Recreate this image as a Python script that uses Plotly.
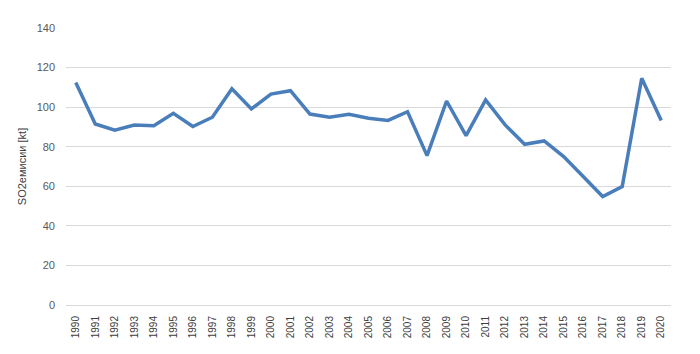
import plotly.graph_objects as go

years = [str(y) for y in range(1990, 2021)]
so2 = [112.4, 91.5, 88.4, 91.0, 90.6, 96.9, 90.2, 94.9, 109.3, 99.1,
       106.6, 108.3, 96.5, 94.9, 96.4, 94.4, 93.3, 97.7, 75.5, 103.1,
       85.6, 103.6, 91.0, 81.2, 82.9, 75.0, 64.9, 54.8, 59.8, 114.6, 93.2]
y_ticks = [0, 20, 40, 60, 80, 100, 120, 140]

fig = go.Figure()
fig.add_trace(go.Scatter(
    x=years, y=so2, mode="lines",
    line=dict(color="#4a7ebb", width=3.5),
    hoverinfo="x+y", showlegend=False,
))

fig.update_layout(
    width=700, height=354,
    margin=dict(l=66, r=29, t=28, b=49),
    paper_bgcolor="white", plot_bgcolor="white",
    font=dict(family="Liberation Sans, Arial, sans-serif", color="#595959", size=10),
    xaxis=dict(
        type="category", tickangle=-90, showgrid=False,
        range=[-0.5, len(years) - 0.5],
        showline=True, linecolor="#d9d9d9", linewidth=1,
        ticks="", ticklabelstandoff=6, tickfont=dict(size=10, color="#404040"),
    ),
    yaxis=dict(
        range=[0, 140], tickvals=y_ticks, showgrid=True, gridcolor="#d9d9d9",
        gridwidth=1, zeroline=False, showline=False, ticks="",
        ticklabelstandoff=10,
        tickfont=dict(size=11, color="#595959"),
        title=dict(text="SO2емисии [kt]", font=dict(size=11, color="#404040"), standoff=7),
    ),
)

fig.write_html("out.html")
